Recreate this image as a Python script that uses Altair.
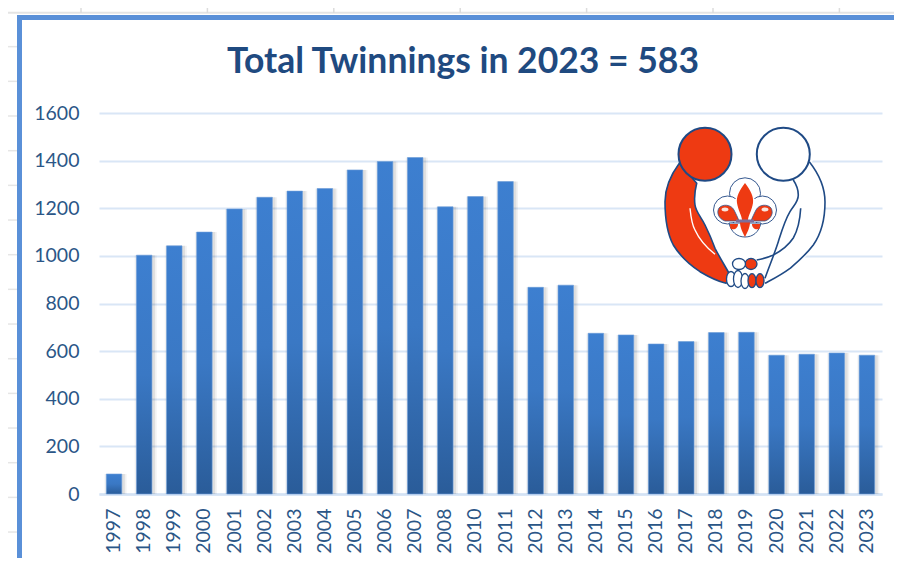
import altair as alt
import pandas as pd

years = ["1997","1998","1999","2000","2001","2002","2003","2004","2005","2006","2007","2008",
         "2010","2011","2012","2013","2014","2015","2016","2017","2018","2019","2020","2021","2022","2023"]
twinnings = [84,1003,1042,1100,1197,1246,1272,1283,1361,1396,1413,1206,
             1249,1312,868,877,675,668,630,640,678,679,583,587,592,583]
y_ticks = [0,200,400,600,800,1000,1200,1400,1600]
title_text = "Total Twinnings in 2023 = 583"

NAVY = "#2b5687"
FONT = "Lato"
LEFT, TOP, W, H = 99, 113, 783, 381
one = alt.Data(values=[{"a": 1}])
df = pd.DataFrame({"year": years, "n": twinnings})

x_enc = alt.X("year:N", sort=None, title=None,
              scale=alt.Scale(paddingInner=0.48, paddingOuter=0.24),
              axis=alt.Axis(labelAngle=270, labelAlign="right", labelBaseline="middle",
                            labelPadding=14, labelFontSize=19.5, labelFont=FONT, labelColor=NAVY,
                            ticks=False, domainColor="#d3e2f4", domainWidth=2.5))
y_enc = alt.Y("n:Q", title=None, scale=alt.Scale(domain=[0, 1600], nice=False),
              axis=alt.Axis(values=y_ticks, format="d", labelPadding=20, labelFontSize=19.5, labelFont=FONT,
                            labelColor=NAVY, ticks=False, domain=False, gridColor="#d9e6f6", gridWidth=2))


def rule(x1, y1, x2, y2, color, width):
    return alt.Chart(one).mark_rule(color=color, strokeWidth=width).encode(
        x=alt.value(x1 - LEFT), x2=alt.value(x2 - LEFT),
        y=alt.value(y1 - TOP), y2=alt.value(y2 - TOP))


LX, LY = 745, 208


def lg(shape, dx=0, dy=0, size=4, fill=None, stroke=None, sw=1.6):
    kw = {"shape": shape, "size": size, "opacity": 1, "strokeWidth": sw, "filled": fill is not None}
    if fill is not None:
        kw["fill"] = fill
    if stroke is not None:
        kw["stroke"] = stroke
    else:
        kw["strokeWidth"] = 0
    return alt.Chart(one).mark_point(**kw).encode(
        x=alt.value(LX + dx - LEFT), y=alt.value(LY + dy - TOP))


def ell(cx, cy, rx, ry):
    return (f"M{cx-rx} {cy}C{cx-rx} {cy-ry*.55} {cx-rx*.55} {cy-ry} {cx} {cy-ry}"
            f"C{cx+rx*.55} {cy-ry} {cx+rx} {cy-ry*.55} {cx+rx} {cy}"
            f"C{cx+rx} {cy+ry*.55} {cx+rx*.55} {cy+ry} {cx} {cy+ry}"
            f"C{cx-rx*.55} {cy+ry} {cx-rx} {cy+ry*.55} {cx-rx} {cy}Z")


RED = "#ee3a12"
LN = "#1f4a85"
logo = [
    lg("circle", 0, -2, size=158**2, fill="white"),
    lg("circle", 38.3, -53.7, size=60**2, fill="white"),
    lg("M64.3 -46.3C74 -34 80 -20 80 -6C80 12 76 26 68.3 37C60 48 50 56 45 60.3C36 67 28 71 20 75.3", fill=None, stroke=LN),
    lg("M48.3 -28C51 -24 53.3 -19 53.3 -13C53.3 -6 49 -3 45 3.7C40 12 37 22 33.3 33.7C29 47 24 59 20 70.3", fill=None, stroke=LN),
    lg("M55.7 0.3C55 12 53 22 48.3 30C43 38 36 43 28.3 47C22 50 17 51 11.7 52", fill=None, stroke=LN),
    lg("M-65.7 -44.7C-75 -32 -80 -20 -80 -6.3C-80 10 -78 25 -71.7 37C-65 48 -55 57 -45 63.7C-36 69 -28 73 -19 75.3L-15 67C-20 58 -25 50 -30 40.3C-33 32 -36 25 -40 17C-44 9 -49 4 -50 -3C-51 -10 -50 -18 -48.3 -24.7Z",
       fill=RED, stroke=LN),
    lg("M-55 0.3C-54 10 -53 17 -50 22C-45 33 -38 40 -30 46.3", fill=None, stroke="white", sw=1.4),
    lg("circle", -40, -53.7, size=53**2, fill=RED, stroke=LN, sw=2),
    lg("circle", 38.3, -53.7, size=53**2, fill="white", stroke=LN, sw=2),
    # hands
    lg(ell(6, 56, 6, 5.5), fill=RED, stroke=LN, sw=1.3),
    lg(ell(-6, 56, 6.5, 5.5), fill="white", stroke=LN, sw=1.3),
    lg(ell(-14, 71, 4.5, 7.5), fill="white", stroke=LN, sw=1.3),
    lg(ell(-7, 71, 4.5, 8.5), fill="white", stroke=LN, sw=1.3),
    lg(ell(0, 73, 4, 7.5), fill="white", stroke=LN, sw=1.3),
    lg(ell(7, 72.7, 4, 7), fill=RED, stroke=LN, sw=1.3),
    lg(ell(15, 72.7, 4, 7), fill=RED, stroke=LN, sw=1.3),
    # fleur-de-lis
    lg("circle", 0, -14.7, size=31**2, fill="white", stroke="#35588f", sw=1),
    lg("circle", -17.5, 2, size=28**2, fill="white", stroke="#35588f", sw=1),
    lg("circle", 17.5, 2, size=28**2, fill="white", stroke="#35588f", sw=1),
    lg("circle", 0, 3, size=31**2, fill="white"),
    lg("M-16 15C-14 24 -8 29 0 29C8 29 14 24 16 15Z", fill="white", stroke="#35588f", sw=1),
    lg("M-6 13L-20 13C-26 11 -29 5 -26 0C-23 -4 -14 -4 -11 2C-9 6 -7 10 -6 13Z", fill=RED, stroke="#35588f", sw=0.8),
    lg("M6 13L20 13C26 11 29 5 26 0C23 -4 14 -4 11 2C9 6 7 10 6 13Z", fill=RED, stroke="#35588f", sw=0.8),
    lg(ell(-20, 1.5, 3.5, 2), fill="#fbe3dc"),
    lg(ell(20, 1.5, 3.5, 2), fill="#fbe3dc"),
    lg("M0 -25C-5 -18 -9 -12 -8 -5C-7 2 -3 8 -3 12L3 12C3 8 7 2 8 -5C9 -12 5 -18 0 -25Z", fill=RED),
    lg("M-5 14L5 14C5 20 2 25 0 29C-2 25 -5 20 -5 14Z", fill=RED),
    lg("M-15 16L-7 16C-7 20 -10 22 -14 21C-15 20 -15 18 -15 16Z", fill=RED),
    lg("M15 16L7 16C7 20 10 22 14 21C15 20 15 18 15 16Z", fill=RED),
    lg("M-9 11.5L9 11.5L9 14.5L-9 14.5Z", fill="#7d6f9a"),
]

# Worksheet lines behind the pasted chart
sheet = [rule(8, 12.7, 902, 12.7, "#e4e4e4", 2)]
for i in range(1, 16):
    yy = 12 + i * 34.67
    sheet.append(rule(8, yy, 17, yy, "#e6e6e6", 1.5))
for i in range(7):
    xx = 81 + i * 126.4
    sheet.append(rule(xx, 8, xx, 13, "#dcdcdc", 1.5))

frame = [
    rule(19.5, 15, 19.5, 566, "#5a90d8", 5),
    rule(17, 17.5, 902, 17.5, "#5a90d8", 5),
]

base = alt.Chart(df)
grad = alt.LinearGradient(gradient="linear", x1=0, x2=0, y1=0, y2=1,
                          stops=[alt.GradientStop(color="#3d7fd0", offset=0),
                                 alt.GradientStop(color="#3a78c4", offset=0.5),
                                 alt.GradientStop(color="#2a5c99", offset=1)])
axes_layer = base.mark_bar(opacity=0).encode(x=x_enc, y=y_enc)
shadow2 = base.mark_bar(color="#000000", opacity=0.05, size=22, xOffset=1.5).encode(x=x_enc, y=y_enc)
shadow1 = base.mark_bar(color="#000000", opacity=0.08, size=18.5, xOffset=1.5).encode(x=x_enc, y=y_enc)
bars = base.mark_bar(color=grad, size=15.5, stroke="#6f9fdc", strokeWidth=0.6).encode(x=x_enc, y=y_enc)
title_mark = alt.Chart(one).mark_text(text=title_text, font=FONT, fontSize=35.5, fontWeight="bold",
                                      color="#1f4a80", align="center", baseline="middle").encode(
    x=alt.value(463 - LEFT), y=alt.value(62 - TOP))

chart = alt.layer(*sheet, *frame, axes_layer, shadow2, shadow1, bars, *logo, title_mark).properties(
    width=W, height=H,
    padding={"left": LEFT - 8, "top": TOP - 8, "right": 12, "bottom": 64},
    autosize=alt.AutoSizeParams(type="none"),
    background="white",
).configure_view(stroke=None)

chart.save("out.html", embed_options={"renderer": "svg", "actions": False})
